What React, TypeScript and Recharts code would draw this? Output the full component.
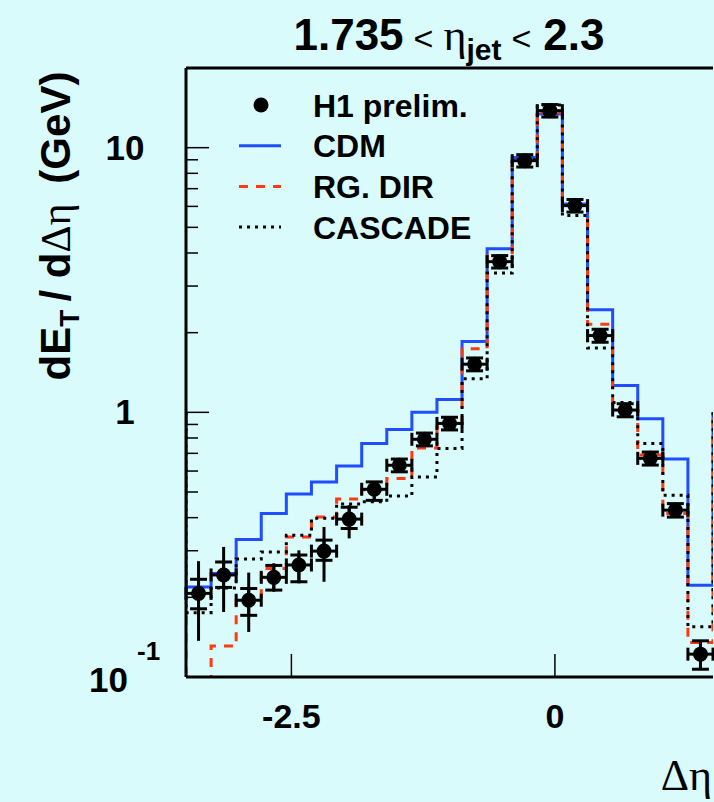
import React from "react"
import {
  ComposedChart,
  Line,
  Scatter,
  ErrorBar,
  XAxis,
  YAxis,
  Legend,
  Label
} from "recharts"

// bin edges in delta eta (21 bins)
const binEdges = [
  -3.5, -3.262, -3.024, -2.786, -2.548, -2.31, -2.071, -1.833, -1.595, -1.357, -1.119,
  -0.881, -0.643, -0.405, -0.167, 0.071, 0.31, 0.548, 0.786, 1.024, 1.262, 1.5,
]

// H1 preliminary data points
const h1Values = [0.207, 0.243, 0.195, 0.238, 0.265, 0.299, 0.395, 0.512, 0.631, 0.791, 0.908, 1.52, 3.71, 8.93, 13.8, 6.04, 1.95, 1.02, 0.67, 0.427, 0.122]
const h1ErrLow = [0.07, 0.067, 0.047, 0.028, 0.039, 0.07, 0.061, 0.047, 0.035, 0.044, 0.05, 0.085, 0.2, 0.48, 0.75, 0.33, 0.11, 0.058, 0.038, 0.025, 0.015]
const h1ErrHigh = [0.067, 0.067, 0.053, 0.031, 0.036, 0.07, 0.051, 0.034, 0.035, 0.044, 0.05, 0.085, 0.2, 0.48, 0.75, 0.33, 0.11, 0.058, 0.038, 0.025, 0.015]
const h1StatLow = [0.026, 0.025, 0.024, 0.025, 0.036, 0.023, 0.031, 0.047, 0.035, 0.044, 0.05, 0.085, 0.2, 0.48, 0.75, 0.33, 0.11, 0.058, 0.038, 0.025, 0.015]
const h1StatHigh = [0.027, 0.029, 0.021, 0.026, 0.024, 0.03, 0.043, 0.034, 0.035, 0.044, 0.05, 0.085, 0.2, 0.48, 0.75, 0.33, 0.11, 0.058, 0.038, 0.025, 0.015]

// model histograms
const cdmValues = [0.219, 0.246, 0.331, 0.415, 0.491, 0.546, 0.627, 0.762, 0.861, 1.0, 1.117, 1.853, 4.15, 9.19, 13.4, 6.13, 2.44, 1.264, 0.946, 0.667, 0.222]
const rgDirValues = [0.05, 0.131, 0.195, 0.257, 0.338, 0.402, 0.47, 0.51, 0.562, 0.733, 0.88, 1.74, 3.9, 9.14, 13.6, 6.18, 2.15, 1.05, 0.69, 0.415, 0.135]
const cascadeValues = [0.175, 0.217, 0.279, 0.297, 0.343, 0.398, 0.45, 0.459, 0.483, 0.57, 0.73, 1.34, 3.36, 9.0, 14.5, 5.54, 1.75, 1.09, 0.762, 0.486, 0.155]
// level just outside the range (left, right), drawn as the edge verticals
const histOuterLevel = [1.0, 1.0]

const yTicks = [0.1, 0.2, 0.3, 0.4, 0.5, 0.6, 0.7, 0.8, 0.9, 1, 2, 3, 4, 5, 6, 7, 8, 9, 10, 20]
const yMajor = [0.1, 1, 10]
const xTicks = [-2.5, 0]
const xTickLabels = ["-2.5", "0"]

const legendNames = ["H1 prelim.", "CDM", "RG. DIR", "CASCADE"]
const legendColors = ["#000000", "#1f4dff", "#ff3a12", "#000000"]
const legendDash = ["", "", "9 8", "3 5"]

const SANS = "'Liberation Sans', Arial, Helvetica, sans-serif"
const SERIF = "'Liberation Serif', 'Times New Roman', serif"
const BG = "#d9fbfc"

const stepData = (vals: number[]) => [
  { x: binEdges[0], y: histOuterLevel[0] },
  ...vals.map((v, i) => ({ x: binEdges[i], y: v })),
  { x: binEdges[binEdges.length - 1], y: vals[vals.length - 1] },
  { x: binEdges[binEdges.length - 1], y: histOuterLevel[1] },
]

const h1Data = h1Values.map((v, i) => ({
  x: (binEdges[i] + binEdges[i + 1]) / 2,
  y: v,
  ex: (binEdges[i + 1] - binEdges[i]) / 2,
  ey: [h1ErrLow[i], h1ErrHigh[i]],
  es: [h1StatLow[i], h1StatHigh[i]],
}))

const YTick = (props: any) => {
  const { x, y, payload } = props
  const v = payload.value
  const major = yMajor.includes(v)
  let label = null
  if (v === 10) {
    label = <text x={x - 61} y={y + 12} textAnchor="middle" fontFamily={SANS} fontWeight="bold" fontSize={35} fill="#000">10</text>
  } else if (v === 1) {
    label = <text x={x - 61} y={y + 12} textAnchor="middle" fontFamily={SANS} fontWeight="bold" fontSize={35} fill="#000">1</text>
  } else if (v === 0.1) {
    label = (
      <g>
        <text x={x - 58} y={y + 15} textAnchor="end" fontFamily={SANS} fontWeight="bold" fontSize={35} fill="#000">10</text>
        <text x={x - 49} y={y - 17} textAnchor="start" fontFamily={SANS} fontWeight="bold" fontSize={26} fill="#000">-1</text>
      </g>
    )
  }
  return (
    <g>
      <line x1={x} x2={x + (major ? 23 : 12)} y1={y} y2={y} stroke="#000" strokeWidth={1.5} />
      {label}
    </g>
  )
}

const XTick = (props: any) => {
  const { x, y, payload } = props
  const idx = xTicks.indexOf(payload.value)
  return (
    <g>
      <line x1={x} x2={x} y1={y} y2={y - 23} stroke="#000" strokeWidth={1.5} />
      <text x={x} y={y + 51} textAnchor="middle" fontFamily={SANS} fontWeight="bold" fontSize={34} fill="#000">
        {xTickLabels[idx]}
      </text>
    </g>
  )
}

const TitleLabel = () => (
  <text x={449} y={50} textAnchor="middle" fontFamily={SANS} fontWeight="bold" fontSize={44} fill="#000">
    <tspan>1.735</tspan>
    <tspan fontWeight="normal" fontSize={34} dx={10}>&lt;</tspan>
    <tspan fontFamily={SERIF} fontWeight="normal" fontSize={44} dx={10}>η</tspan>
    <tspan fontSize={30} dy={10}>jet</tspan>
    <tspan fontWeight="normal" fontSize={34} dx={10} dy={-10}>&lt;</tspan>
    <tspan dx={12}>2.3</tspan>
  </text>
)

const YTitle = () => (
  <text transform="translate(70,226) rotate(-90)" textAnchor="middle" fontFamily={SANS} fontWeight="bold" fontSize={42} fill="#000">
    <tspan>dE</tspan>
    <tspan fontSize={28} dy={9}>T</tspan>
    <tspan dy={-9} dx={8}>/ d</tspan>
    <tspan fontFamily={SERIF} fontWeight="normal">Δη</tspan>
    <tspan dx={20}>(GeV)</tspan>
  </text>
)

const XTitle = () => (
  <text x={712} y={790} textAnchor="end" fontFamily={SERIF} fontSize={44} fill="#000">Δη</text>
)

const LegendBox = () => (
  <svg width={300} height={170}>
    {legendNames.map((name, i) => {
      const cy = 20 + i * 40.7
      return (
        <g key={name}>
          {i === 0 ? (
            <circle cx={31} cy={cy} r={7.5} fill="#000" />
          ) : (
            <line x1={9} x2={51} y1={cy} y2={cy} stroke={legendColors[i]} strokeWidth={3} strokeDasharray={legendDash[i]} />
          )}
          <text x={83} y={cy + 11.5} fontFamily={SANS} fontWeight="bold" fontSize={32} fill="#000">{name}</text>
        </g>
      )
    })}
  </svg>
)

const renderDot = (props: any) => <circle cx={props.cx} cy={props.cy} r={7.5} fill="#000" />

export default function App() {
  return (
    <div style={{ position: "absolute", left: 0, top: 0, width: 714, height: 802, background: BG, overflow: "hidden" }}>
      <ComposedChart width={714} height={802} margin={{ top: 0, right: 1, bottom: 0, left: 0 }}>

        {/* frame top + title */}
        <XAxis
          xAxisId="top"
          orientation="top"
          type="number"
          dataKey="x"
          domain={[-3.5, 1.5]}
          height={68}
          tick={false}
          tickLine={false}
          axisLine={{ stroke: "#000", strokeWidth: 3 }}
        >
          <Label content={TitleLabel} />
        </XAxis>

        <XAxis
          type="number"
          dataKey="x"
          domain={[-3.5, 1.5]}
          allowDataOverflow
          ticks={xTicks}
          interval={0}
          height={125}
          tickSize={0}
          tickMargin={0}
          tickLine={false}
          tick={XTick}
          axisLine={{ stroke: "#000", strokeWidth: 3 }}
        >
          <Label content={XTitle} />
        </XAxis>

        <YAxis
          type="number"
          dataKey="y"
          scale="log"
          domain={[0.1, 20]}
          allowDataOverflow
          ticks={yTicks}
          interval={0}
          width={186}
          tickSize={0}
          tickMargin={0}
          tickLine={false}
          tick={YTick}
          axisLine={{ stroke: "#000", strokeWidth: 3 }}
        >
          <Label content={YTitle} />
        </YAxis>

        <Line data={stepData(cdmValues)} dataKey="y" type="stepAfter" stroke="#1f4dff" strokeWidth={3} dot={false} activeDot={false} isAnimationActive={false} />
        <Line data={stepData(rgDirValues)} dataKey="y" type="stepAfter" stroke="#ff3a12" strokeWidth={3} strokeDasharray="9 8" dot={false} activeDot={false} isAnimationActive={false} />
        <Line data={stepData(cascadeValues)} dataKey="y" type="stepAfter" stroke="#000" strokeWidth={3} strokeDasharray="3 5" dot={false} activeDot={false} isAnimationActive={false} />

        <Scatter data={h1Data} dataKey="y" shape={renderDot} isAnimationActive={false}>
          <ErrorBar dataKey="ex" direction="x" width={6.5} stroke="#000" strokeWidth={3} isAnimationActive={false} />
          <ErrorBar dataKey="ey" direction="y" width={0} stroke="#000" strokeWidth={3} isAnimationActive={false} />
          <ErrorBar dataKey="es" direction="y" width={8.5} stroke="#000" strokeWidth={3} isAnimationActive={false} />
        </Scatter>

        <Legend
          layout="vertical"
          align="center"
          verticalAlign="middle"
          content={LegendBox}
          wrapperStyle={{ position: "absolute", top: 85, left: 230, width: 300, height: 170 }}
        />
      </ComposedChart>
    </div>
  )
}
